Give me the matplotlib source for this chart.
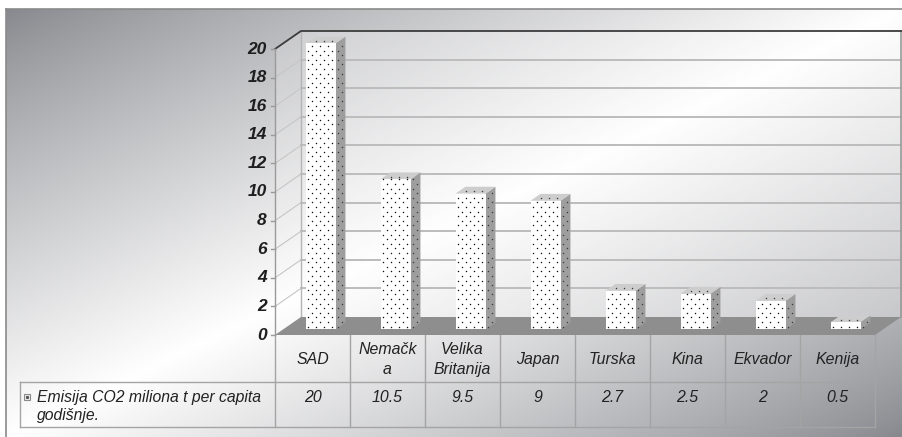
import numpy as np
import matplotlib.pyplot as plt
from matplotlib import transforms
from matplotlib.patches import Polygon, Rectangle
from matplotlib.path import Path

plt.rcParams["font.family"] = ["Liberation Sans", "DejaVu Sans"]

countries = ["SAD", "Nemačk\na", "Velika\nBritanija", "Japan",
             "Turska", "Kina", "Ekvador", "Kenija"]
emissions = [20, 10.5, 9.5, 9, 2.7, 2.5, 2, 0.5]
value_labels = ["20", "10.5", "9.5", "9", "2.7", "2.5", "2", "0.5"]
series_name = "Emisija CO2 miliona t per capita\ngodišnje."
y_ticks = [0, 2, 4, 6, 8, 10, 12, 14, 16, 18, 20]

# figure layout in pixels
W, H = 903, 437
FRAME_X, FRAME_Y = 6, 9
PLOT_LEFT, CAT_W = 275, 75
ZERO_Y, UNIT_H = 335, 14.3
ROW_MID, ROW_BOT = 382, 427
LEGEND_LEFT = 20

n = len(countries)
y_max = max(y_ticks)

# oblique depth offset, in data units
DX = 26 / CAT_W
DY = 18 / UNIT_H
BAR_W = 0.4          # fraction of a category
BAR_D0 = 0.31        # bar front face, fraction of full depth
BAR_DEPTH = 0.38     # bar depth, fraction of full depth

fig = plt.figure(figsize=(W / 100, H / 100), dpi=100)
fig.patch.set_facecolor("white")

bg = fig.add_axes([0, 0, 1, 1])
bg.set_xlim(0, W)
bg.set_ylim(H, 0)
bg.axis("off")

# diagonal gradient: dark at top-left and bottom-right, white across the middle
u, v = np.meshgrid(np.linspace(0, 1, 400), np.linspace(0, 1, 200))
s = (1 - np.abs(u + v - 1)) ** 0.85
dark = np.array([0.53, 0.535, 0.555])
img = dark[None, None, :] + (1 - dark)[None, None, :] * s[..., None]
bg.imshow(img, extent=(FRAME_X, W, H, FRAME_Y), aspect="auto",
          interpolation="bilinear", zorder=0)
bg.plot([FRAME_X, W], [FRAME_Y, FRAME_Y], color="#8a8a8a", lw=1.2, zorder=1)
bg.plot([FRAME_X, FRAME_X], [FRAME_Y, H], color="#8a8a8a", lw=1.2, zorder=1)

ax = fig.add_axes([PLOT_LEFT / W, (H - ZERO_Y) / H,
                   n * CAT_W / W, y_max * UNIT_H / H])
ax.set_xlim(0, n)
ax.set_ylim(0, y_max)
ax.axis("off")
ax.patch.set_alpha(0)


def poly(pts, **kw):
    p = Polygon(pts, closed=True, clip_on=False, **kw)
    ax.add_patch(p)
    return p


def dots(pts, color, z):
    # small dotted fill pattern inside a face
    pts = np.array(pts)
    sx, sy = 8 / CAT_W, 4.6 / UNIT_H
    xs0, ys0 = pts[:, 0].min(), pts[:, 1].min()
    xs1, ys1 = pts[:, 0].max(), pts[:, 1].max()
    path = Path(pts)
    px, py = [], []
    row = 0
    y = ys0 + sy * 0.6
    while y < ys1:
        x = xs0 + sx * (0.3 if row % 2 == 0 else 0.8)
        while x < xs1:
            px.append(x)
            py.append(y)
            x += sx
        y += sy
        row += 1
    if not px:
        return
    cand = np.column_stack([px, py])
    inside = path.contains_points(cand, radius=-0.01)
    cand = cand[inside]
    ax.scatter(cand[:, 0], cand[:, 1], s=1.1, color=color, lw=0,
               zorder=z, clip_on=False)


# walls
poly([(DX, DY), (n + DX, DY), (n + DX, y_max + DY), (DX, y_max + DY)],
     fc="white", alpha=0.3, ec="none", zorder=1)
poly([(0, 0), (DX, DY), (DX, y_max + DY), (0, y_max)],
     fc="white", alpha=0.2, ec="none", zorder=1)

for t in y_ticks[1:-1]:
    ax.plot([DX, n + DX], [t + DY, t + DY], color="#bcbcbc", lw=1.4,
            zorder=2, clip_on=False)
for t in y_ticks[1:-1]:
    ax.plot([0, DX], [t, t + DY], color="#c6c6c6", lw=0.8,
            zorder=2, clip_on=False)

ax.plot([DX, DX], [DY, y_max + DY], color="#b4b4b4", lw=1, zorder=2,
        clip_on=False)
ax.plot([n + DX, n + DX], [DY, y_max + DY], color="#9a9a9a", lw=1.2,
        zorder=2, clip_on=False)
ax.plot([0, DX, n + DX + 0.04], [y_max, y_max + DY, y_max + DY],
        color="#3c3c3c", lw=1.3, zorder=3, clip_on=False)
ax.plot([0, 0], [0, y_max], color="#9a9a9a", lw=1, zorder=3, clip_on=False)

for t in y_ticks:
    ax.plot([-0.05, 0], [t, t], color="#9a9a9a", lw=1, zorder=3,
            clip_on=False)
    ax.text(-0.11, t, str(t), ha="right", va="center", fontsize=12.5,
            fontweight="bold", fontstyle="italic", color="#1e1e1e")

# floor
poly([(0, 0), (n, 0), (n + DX, DY), (DX, DY)], fc="#8e8e8e", ec="none",
     zorder=4)

# bars
for i, val in enumerate(emissions):
    left = i + (1 - BAR_W) / 2 + BAR_D0 * DX
    bot = BAR_D0 * DY
    ddx, ddy = BAR_DEPTH * DX, BAR_DEPTH * DY
    right = left + BAR_W
    top = bot + val
    front = [(left, bot), (right, bot), (right, top), (left, top)]
    side = [(right, bot), (right + ddx, bot + ddy), (right + ddx, top + ddy),
            (right, top)]
    lid = [(left, top), (right, top), (right + ddx, top + ddy),
           (left + ddx, top + ddy)]
    poly(side, fc="#9e9e9e", ec="none", zorder=5)
    poly(lid, fc="#cdcdcd", ec="none", zorder=5)
    poly(front, fc="white", ec="none", zorder=5)
    dots(side, "#3a3a3a", 6)
    dots(lid, "#3a3a3a", 6)
    dots(front, "#111111", 6)

# data table under the chart: x in category units, y in pixels
tr = transforms.blended_transform_factory(ax.transData, bg.transData)
leg_x = (LEGEND_LEFT - PLOT_LEFT) / CAT_W
line_kw = dict(color="#a4a4a4", lw=1, transform=tr, clip_on=False, zorder=3)
ax.plot([leg_x, n], [ROW_MID, ROW_MID], **line_kw)
ax.plot([leg_x, n], [ROW_BOT, ROW_BOT], **line_kw)
ax.plot([leg_x, leg_x], [ROW_MID, ROW_BOT], **line_kw)
for k in range(n + 1):
    ax.plot([k, k], [ZERO_Y, ROW_BOT], **line_kw)

txt_kw = dict(ha="center", va="center", fontsize=11.4, fontstyle="italic",
              color="#222222", transform=tr, linespacing=1.35)
for i, (name, lab) in enumerate(zip(countries, value_labels)):
    ax.text(i + 0.5, (ZERO_Y + ROW_MID) / 2 + 1, name, **txt_kw)
    ax.text(i + 0.5, 397, lab, **txt_kw)

# series key and name
bg.add_patch(Rectangle((24, 394), 6, 6, fc="#ececec", ec="#8a8a8a", lw=0.8,
                       zorder=3))
bg.plot([27], [397], marker="s", ms=1.2, color="#555555", zorder=4)
bg.text(37, 406.5, series_name, ha="left", va="center", fontsize=11.3,
        fontstyle="italic", color="#222222", linespacing=1.25)

fig.savefig("out.png", dpi=100)
